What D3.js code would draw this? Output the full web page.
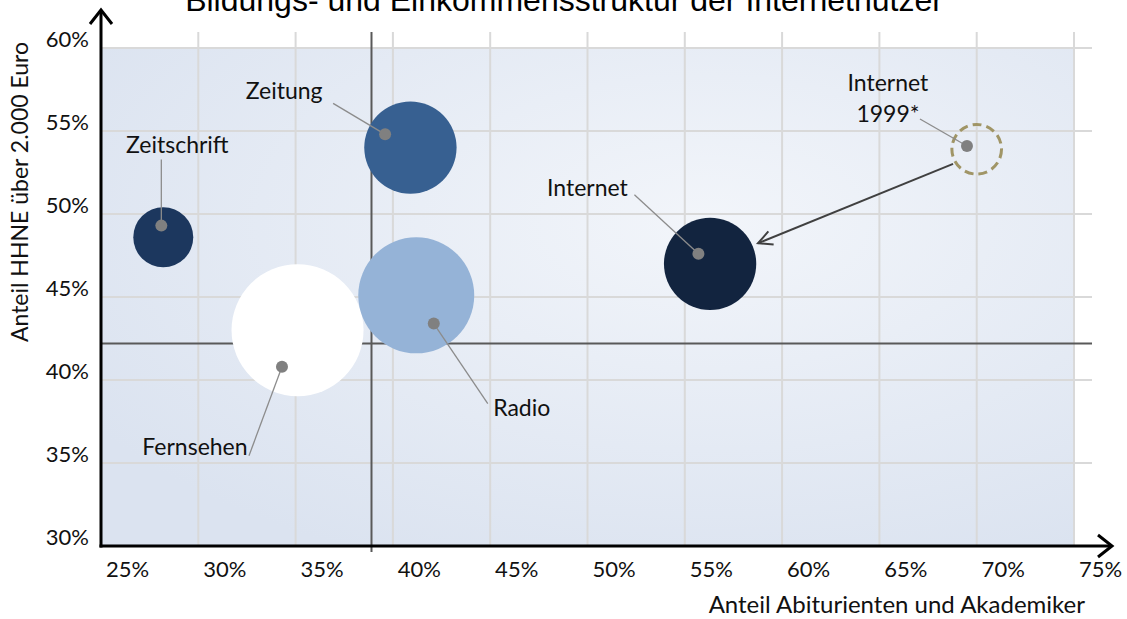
<!DOCTYPE html>
<html>
<head>
<meta charset="utf-8">
<script src="https://cdn.jsdelivr.net/npm/d3@7"></script>
<style>
  body { margin: 0; background: #fff; }
  svg { display: block; }
</style>
</head>
<body>
<svg id="chart"></svg>
<script>
const width = 1127;
const height = 619;

// DATA
const media = ["Zeitschrift", "Zeitung", "Fernsehen", "Radio", "Internet", "Internet 1999*"];
const abiShare = [28.2, 40.9, 35.1, 41.2, 56.3, 70.0];     // bubble centre, x
const hhneShare = [48.6, 54.0, 43.0, 45.1, 47.0, 53.9];    // bubble centre, y
const reach = [19, 45, 92, 71, 45, 13];                    // bubble size
const dotAbi = [28.1, 39.6, 34.3, 42.1, 55.7, 69.5];       // marker point, x
const dotHhne = [49.3, 54.8, 40.8, 43.4, 47.6, 54.1];      // marker point, y
const xTicks = [25, 30, 35, 40, 45, 50, 55, 60, 65, 70, 75];
const yTicks = [30, 35, 40, 45, 50, 55, 60];
const refAbi = 38.9;
const refHhne = 42.2;

const colors = ["#1c375e", "#376091", "#ffffff", "#95b3d7", "#12243f", "none"];

// label placement relative to the marker point (px)
const labelLayout = [
  { tx: 16, ty: -81, lx: 0, ly: -66 },
  { tx: -101, ty: -43, lx: -52, ly: -31 },
  { tx: -87, ty: 80, lx: -33, ly: 89 },
  { tx: 88, ty: 84, lx: 54, ly: 80 },
  { tx: -111, ty: -66, lx: -64, ly: -59 },
  { tx: -79, ty: -63, lx: -47, ly: -27 }
];

const font = "Lato, 'Open Sans', sans-serif";

const svg = d3.select("#chart")
  .attr("width", width)
  .attr("height", height)
  .style("background", "#ffffff");

// SCALES
const xScale = d3.scaleLinear().domain([25, 75]).range([101, 1074]);
const yScale = d3.scaleLinear().domain([30, 60]).range([546, 48]);
const rScale = d3.scaleSqrt().domain([0, d3.max(reach)]).range([0, 66]);

// PLOT BACKGROUND
const defs = svg.append("defs");
const grad = defs.append("radialGradient")
  .attr("id", "bg")
  .attr("cx", "62%").attr("cy", "35%").attr("r", "75%");
grad.append("stop").attr("offset", "0%").attr("stop-color", "#f2f5fa");
grad.append("stop").attr("offset", "100%").attr("stop-color", "#dbe3f0");

defs.append("marker")
  .attr("id", "openArrow")
  .attr("viewBox", "0 0 20 20")
  .attr("refX", 16).attr("refY", 10)
  .attr("markerWidth", 20).attr("markerHeight", 20)
  .attr("markerUnits", "userSpaceOnUse")
  .attr("orient", "auto")
  .append("path")
    .attr("d", "M2,3 L16,10 L2,17")
    .attr("fill", "none")
    .attr("stroke", "#404040")
    .attr("stroke-width", 2);

svg.append("rect")
  .attr("x", xScale(25))
  .attr("y", yScale(60))
  .attr("width", xScale(75) - xScale(25))
  .attr("height", yScale(30) - yScale(60))
  .attr("fill", "url(#bg)");

// GRID
svg.append("g")
  .selectAll("line")
  .data(xTicks.slice(1))
  .join("line")
    .attr("x1", d => xScale(d)).attr("x2", d => xScale(d))
    .attr("y1", yScale(60) - 16).attr("y2", yScale(30))
    .attr("stroke", "#d9d9d9")
    .attr("stroke-width", 2);

svg.append("g")
  .selectAll("line")
  .data(yTicks.slice(1))
  .join("line")
    .attr("x1", xScale(25)).attr("x2", xScale(75) + 18)
    .attr("y1", d => yScale(d)).attr("y2", d => yScale(d))
    .attr("stroke", "#d9d9d9")
    .attr("stroke-width", 2);

// REFERENCE LINES
svg.append("line")
  .attr("x1", xScale(refAbi)).attr("x2", xScale(refAbi))
  .attr("y1", yScale(60) - 16).attr("y2", yScale(30) + 6)
  .attr("stroke", "#595959").attr("stroke-width", 2);
svg.append("line")
  .attr("x1", xScale(25)).attr("x2", xScale(75) + 18)
  .attr("y1", yScale(refHhne)).attr("y2", yScale(refHhne))
  .attr("stroke", "#595959").attr("stroke-width", 2);

// BUBBLES
const idx = d3.range(media.length);
svg.append("g")
  .selectAll("circle")
  .data(idx)
  .join("circle")
    .attr("cx", i => xScale(abiShare[i]))
    .attr("cy", i => yScale(hhneShare[i]))
    .attr("r", i => rScale(reach[i]))
    .attr("fill", i => colors[i])
    .attr("stroke", i => colors[i] === "none" ? "#a09566" : "none")
    .attr("stroke-width", 3)
    .attr("stroke-dasharray", i => colors[i] === "none" ? "9,5" : null);

// ARROW 1999 -> today
{
  const a = 5, b = 4;
  const x0 = xScale(abiShare[a]), y0 = yScale(hhneShare[a]);
  const x1 = xScale(abiShare[b]), y1 = yScale(hhneShare[b]);
  const len = Math.hypot(x1 - x0, y1 - y0);
  const ux = (x1 - x0) / len, uy = (y1 - y0) / len;
  const s = rScale(reach[a]) + 2;
  const e = rScale(reach[b]) + 6;
  svg.append("line")
    .attr("x1", x0 + ux * s + 1).attr("y1", y0 + uy * s + 4)
    .attr("x2", x1 - ux * e).attr("y2", y1 - uy * e)
    .attr("stroke", "#404040")
    .attr("stroke-width", 2)
    .attr("marker-end", "url(#openArrow)");
}

// LEADER LINES, DOTS, LABELS
const ann = svg.append("g");
idx.forEach(i => {
  const px = xScale(dotAbi[i]), py = yScale(dotHhne[i]);
  const L = labelLayout[i];
  ann.append("line")
    .attr("x1", px).attr("y1", py)
    .attr("x2", px + L.lx).attr("y2", py + L.ly)
    .attr("stroke", "#8c8c8c")
    .attr("stroke-width", 1.3);
  ann.append("circle")
    .attr("cx", px).attr("cy", py).attr("r", 6)
    .attr("fill", "#808080");
  const lines = media[i] === "Internet 1999*" ? ["Internet", "1999*"] : [media[i]];
  lines.forEach((t, k) => {
    ann.append("text")
      .attr("x", px + L.tx)
      .attr("y", py + L.ty + k * 31)
      .attr("dy", "0.35em")
      .style("text-anchor", "middle")
      .style("font-family", font)
      .style("font-size", "23px")
      .style("fill", "#111")
      .text(t);
  });
});

// AXES
const axisG = svg.append("g");
axisG.append("line")
  .attr("x1", xScale(25)).attr("x2", xScale(25))
  .attr("y1", yScale(30) + 1.5).attr("y2", 10)
  .attr("stroke", "#000").attr("stroke-width", 3);
axisG.append("path")
  .attr("d", `M${xScale(25) - 11},${24} L${xScale(25)},${10} L${xScale(25) + 11},${24}`)
  .attr("fill", "none").attr("stroke", "#000").attr("stroke-width", 3);
axisG.append("line")
  .attr("x1", xScale(25) - 1.5).attr("x2", 1112)
  .attr("y1", yScale(30)).attr("y2", yScale(30))
  .attr("stroke", "#000").attr("stroke-width", 3);
axisG.append("path")
  .attr("d", `M1098,${yScale(30) - 11} L1112,${yScale(30)} L1098,${yScale(30) + 11}`)
  .attr("fill", "none").attr("stroke", "#000").attr("stroke-width", 3);

// tick labels (offset from grid lines as in the original)
const xAxis = d3.axisBottom(xScale)
  .tickValues(xTicks)
  .tickFormat(d => d + "%")
  .tickSize(0);
svg.append("g")
  .attr("transform", `translate(26, ${yScale(30) + 12})`)
  .call(xAxis)
  .call(g => g.select(".domain").remove())
  .selectAll("text")
    .style("font-family", font)
    .style("font-size", "22px")
    .style("fill", "#111");

const yAxis = d3.axisLeft(yScale)
  .tickValues(yTicks)
  .tickFormat(d => d + "%")
  .tickSize(0);
svg.append("g")
  .attr("transform", `translate(${xScale(25) - 9}, -9)`)
  .call(yAxis)
  .call(g => g.select(".domain").remove())
  .selectAll("text")
    .style("font-family", font)
    .style("font-size", "22px")
    .style("fill", "#111");

// TITLES
svg.append("text")
  .attr("x", 564)
  .attr("y", 11)
  .style("text-anchor", "middle")
  .style("font-family", "'Liberation Sans', Arial, sans-serif")
  .style("font-size", "32px")
  .style("fill", "#000")
  .text("Bildungs- und Einkommensstruktur der Internetnutzer");

svg.append("text")
  .attr("x", 1085)
  .attr("y", 605)
  .attr("dy", "0.35em")
  .style("text-anchor", "end")
  .style("font-family", font)
  .style("font-size", "24px")
  .style("fill", "#111")
  .text("Anteil Abiturienten und Akademiker");

svg.append("text")
  .attr("transform", "rotate(-90)")
  .attr("x", -192)
  .attr("y", 20)
  .attr("dy", "0.35em")
  .style("text-anchor", "middle")
  .style("font-family", font)
  .style("font-size", "23px")
  .style("fill", "#111")
  .text("Anteil HHNE über 2.000 Euro");
</script>
</body>
</html>
